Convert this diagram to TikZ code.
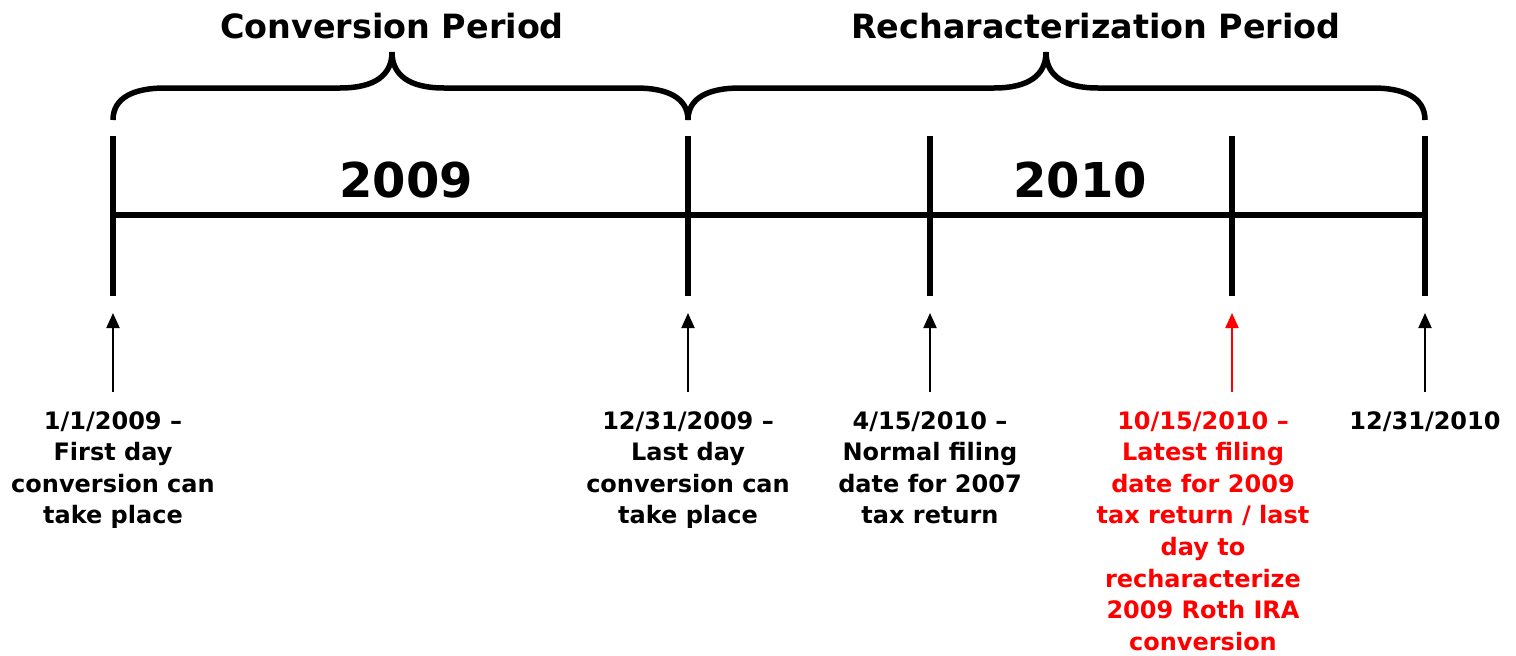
\documentclass[tikz,border=0pt]{standalone}
\usepackage{fontspec}
\setmainfont{DejaVu Sans}
\usetikzlibrary{arrows.meta}
\definecolor{rred}{RGB}{255,0,0}
\begin{document}
\begin{tikzpicture}[x=1pt,y=-1pt,
  tick/.style={line width=5.5pt},
  brace/.style={line width=5.5pt},
  arr/.style={line width=2pt,-{Triangle[length=15pt,width=13pt]}},
  title/.style={font=\bfseries\fontsize{33.4}{40}\selectfont},
  year/.style={font=\bfseries\fontsize{48}{56}\selectfont},
  lbl/.style={font=\bfseries\fontsize{24}{31.6}\selectfont,align=center,anchor=north,inner sep=0pt}]
\useasboundingbox (0,0) rectangle (1516,656);
% coordinates
\foreach \n/\x in {1/113,2/688,3/930,4/1232,5/1425}{
  \coordinate (up\n) at (\x,136);
  \coordinate (dn\n) at (\x,296);
  \coordinate (at\n) at (\x,313);
  \coordinate (ab\n) at (\x,392);
}
\coordinate (lineL) at (113,215);
\coordinate (lineR) at (1425,215);
% ticks and line
\foreach \n in {1,...,5}{\draw[tick] (up\n) -- (dn\n);}
\draw[tick] (lineL) -- (lineR);
% braces
\draw[brace] (113,120) .. controls (113,97) and (135,88) .. (165,88) -- (340,88)
  .. controls (375,88) and (392,75) .. (392,52)
  .. controls (392,75) and (409,88) .. (444,88) -- (636,88)
  .. controls (666,88) and (688,97) .. (688,120);
\draw[brace] (688,120) .. controls (688,97) and (710,88) .. (740,88) -- (994,88)
  .. controls (1029,88) and (1046,75) .. (1046,52)
  .. controls (1046,75) and (1063,88) .. (1098,88) -- (1373,88)
  .. controls (1403,88) and (1425,97) .. (1425,120);
% titles
\node[title] (t1) at (392,26) {Conversion Period};
\node[title] (t2) at (1096,26) {Recharacterization Period};
\node[year] (y1) at (406,180) {2009};
\node[year] (y2) at (1080,180) {2010};
% arrows
\foreach \n in {1,2,3,5}{\draw[arr] (ab\n) -- (at\n);}
\draw[arr,rred] (ab4) -- (at4);
% labels
\node[lbl] (l1) at (113,411) {1/1/2009 –\\First day\\conversion can\\take place};
\node[lbl] (l2) at (688,411) {12/31/2009 –\\Last day\\conversion can\\take place};
\node[lbl] (l3) at (930,411) {4/15/2010 –\\Normal filing\\date for 2007\\tax return};
\node[lbl,text=rred] (l4) at (1203,411) {10/15/2010 –\\Latest filing\\date for 2009\\tax return / last\\day to\\recharacterize\\2009 Roth IRA\\conversion};
\node[lbl] (l5) at (1425,411) {12/31/2010};
\end{tikzpicture}
\end{document}
